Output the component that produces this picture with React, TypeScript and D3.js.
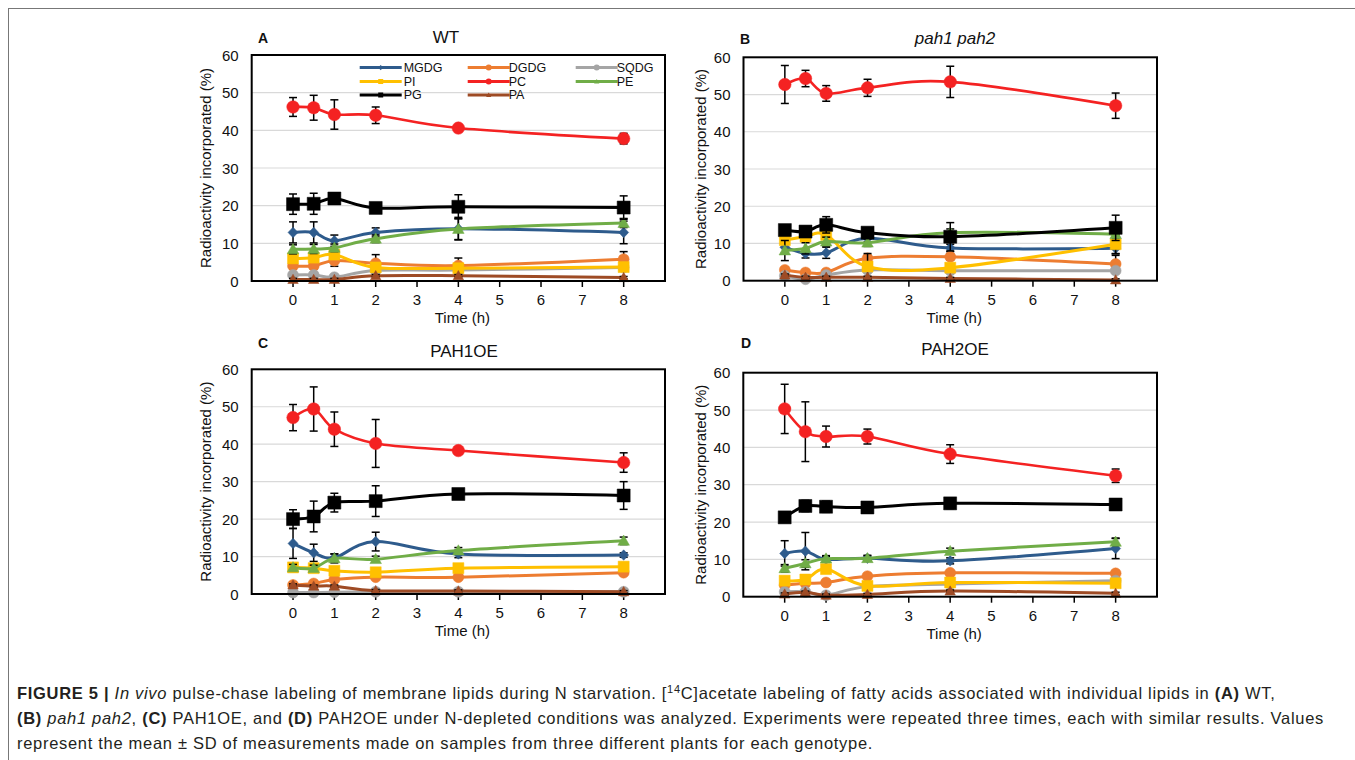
import React from "react";
import * as d3 from "d3";

// ---------- data ----------
const times = [0, 0.5, 1, 2, 4, 8];
const seriesNames = ["MGDG", "DGDG", "SQDG", "PI", "PC", "PE", "PG", "PA"];
const xTicks = [0, 1, 2, 3, 4, 5, 6, 7, 8];
const yTicks = [0, 10, 20, 30, 40, 50, 60];

// WT (A) — series order as seriesNames
const wtMeans = [
  [12.9, 12.9, 10.7, 12.9, 13.9, 12.9],
  [4.0, 4.0, 5.4, 4.7, 4.1, 5.8],
  [1.6, 1.6, 1.0, 2.8, 2.9, 3.6],
  [6.0, 6.2, 7.0, 3.6, 3.4, 3.7],
  [46.2, 46.0, 44.2, 44.0, 40.6, 37.8],
  [8.4, 8.5, 8.8, 11.2, 13.8, 15.4],
  [20.4, 20.5, 21.9, 19.4, 19.7, 19.5],
  [0.4, 0.4, 0.4, 1.4, 1.4, 0.9],
];
const wtErrors = [
  [2.8, 2.8, 1.5, 1.2, 3.0, 3.0],
  [0.8, 0.8, 1.5, 2.3, 2.0, 2.0],
  [0.5, 0.5, 0.4, 0.5, 0.5, 0.5],
  [1.0, 1.0, 1.0, 0.8, 0.8, 0.8],
  [2.5, 3.3, 3.9, 2.2, 0.8, 1.4],
  [1.2, 1.2, 1.0, 1.0, 2.8, 1.2],
  [2.7, 2.8, 0.8, 0.6, 3.2, 3.1],
  [0.3, 0.3, 0.3, 0.3, 0.3, 0.3],
];

// pah1 pah2 (B)
const pahMeans = [
  [9.0, 7.3, 7.5, 11.4, 8.8, 8.7],
  [2.9, 2.2, 2.2, 6.0, 6.4, 4.5],
  [1.3, 0.4, 1.5, 2.9, 2.7, 2.7],
  [10.9, 11.8, 12.3, 3.8, 3.5, 9.8],
  [52.7, 54.3, 50.3, 51.8, 53.4, 47.0],
  [8.1, 8.7, 10.5, 10.2, 12.9, 12.5],
  [13.6, 13.2, 15.0, 12.9, 11.8, 14.2],
  [1.5, 0.9, 0.9, 0.9, 0.6, 0.2],
];
const pahErrors = [
  [1.5, 1.2, 1.5, 1.0, 1.0, 1.5],
  [0.5, 0.5, 0.5, 0.8, 0.8, 2.3],
  [0.5, 0.5, 0.5, 0.5, 0.5, 0.5],
  [1.0, 1.0, 1.0, 3.5, 1.0, 2.5],
  [5.1, 2.2, 2.1, 2.3, 4.2, 3.4],
  [2.7, 1.5, 1.2, 1.0, 1.0, 1.0],
  [1.0, 1.0, 2.2, 0.8, 3.8, 3.4],
  [0.3, 0.3, 0.3, 0.3, 0.3, 0.3],
];

// PAH1OE (C)
const oe1Means = [
  [13.5, 11.0, 9.7, 14.0, 10.7, 10.4],
  [2.4, 2.8, 3.9, 4.5, 4.5, 5.7],
  [0.4, 0.4, 0.5, 0.6, 0.6, 0.6],
  [7.1, 6.9, 6.2, 5.8, 6.9, 7.3],
  [47.1, 49.4, 44.0, 40.2, 38.3, 35.1],
  [7.1, 6.9, 9.5, 9.3, 11.6, 14.2],
  [20.0, 20.7, 24.4, 24.8, 26.7, 26.3],
  [2.4, 2.1, 2.1, 0.9, 0.8, 0.6],
];
const oe1Errors = [
  [4.0, 2.3, 1.0, 2.5, 1.0, 0.6],
  [0.5, 0.5, 0.5, 0.5, 0.5, 0.5],
  [0.2, 0.2, 0.2, 0.2, 0.2, 0.2],
  [0.6, 0.6, 0.6, 0.6, 0.6, 0.6],
  [3.5, 5.9, 4.6, 6.4, 0.5, 2.6],
  [0.8, 0.8, 1.2, 0.8, 0.8, 1.0],
  [2.5, 4.1, 2.5, 4.1, 0.6, 3.7],
  [0.3, 0.3, 0.3, 0.3, 0.3, 0.3],
];

// PAH2OE (D)
const oe2Means = [
  [11.6, 12.2, 10.0, 10.3, 9.6, 12.9],
  [3.1, 3.6, 3.8, 5.5, 6.4, 6.25],
  [1.3, 1.3, 0.4, 2.7, 3.4, 4.3],
  [4.3, 4.6, 7.4, 2.9, 3.8, 3.6],
  [50.3, 44.2, 42.9, 42.9, 38.2, 32.4],
  [7.6, 8.9, 10.2, 10.3, 12.2, 14.7],
  [21.25, 24.3, 24.1, 23.9, 25.0, 24.7],
  [0.7, 1.2, 0.4, 0.6, 1.5, 0.9],
];
const oe2Errors = [
  [3.4, 5.0, 0.8, 0.6, 0.8, 2.7],
  [0.6, 0.6, 0.6, 0.6, 0.6, 0.6],
  [0.4, 0.4, 0.4, 0.4, 0.4, 0.4],
  [0.6, 0.6, 0.6, 0.6, 0.6, 0.6],
  [6.6, 8.0, 2.8, 2.0, 2.5, 1.8],
  [1.0, 1.0, 0.8, 0.8, 0.8, 1.0],
  [0.6, 1.5, 1.5, 1.2, 1.4, 0.6],
  [0.3, 0.3, 0.3, 0.3, 0.3, 0.3],
];

// ---------- styles ----------
const colors = ["#2E5B8C", "#ED7D31", "#A5A5A5", "#FFC000", "#F42222", "#70AD47", "#000000", "#9E4B25"];
const shapes = ["diamond", "circle", "circle", "square", "circle", "triangle", "square", "triangle"];
const markerSizes = [10, 11, 11, 11, 12.5, 11, 13, 10];
const lineWidths = [3, 3, 3, 3, 2.6, 3, 3, 3];

const FONT = "'Liberation Sans', Arial, Helvetica, sans-serif";

function markerPath(shape: string, s: number): string {
  const h = s / 2;
  if (shape === "circle") {
    return `M${-h},0A${h},${h} 0 1,0 ${h},0A${h},${h} 0 1,0 ${-h},0Z`;
  }
  if (shape === "square") return `M${-h},${-h}H${h}V${h}H${-h}Z`;
  if (shape === "diamond") return `M0,${-h * 1.05}L${h},0L0,${h * 1.05}L${-h},0Z`;
  // triangle
  return `M0,${-h * 1.05}L${h * 1.05},${h * 0.8}L${-h * 1.05},${h * 0.8}Z`;
}

type PanelProps = {
  x0: number; x1: number; y0: number; y1: number;
  means: number[][]; errors: number[][];
  title: string; italic?: boolean; titleX: number; titleY: number;
  letter: string; letterX: number; letterY: number;
  yLabelX: number; legend?: boolean;
};

function Panel(p: PanelProps) {
  const x = d3.scaleLinear().domain([-1, 9]).range([p.x0, p.x1]);
  const y = d3.scaleLinear().domain([0, 60]).range([p.y1, p.y0]);
  const line = d3
    .line<[number, number]>()
    .x((d) => x(d[0]))
    .y((d) => y(d[1]))
    .curve(d3.curveCatmullRom.alpha(0));
  const yMid = (p.y0 + p.y1) / 2;
  const xMid = (p.x0 + p.x1) / 2;

  const legendCols = [
    { lx: p.x0 + 108, tx: p.x0 + 152 },
    { lx: p.x0 + 216, tx: p.x0 + 257 },
    { lx: p.x0 + 324, tx: p.x0 + 365 },
  ];
  const legendRows = [p.y0 + 12.5, p.y0 + 26.5, p.y0 + 40];

  return (
    <g>
      {/* gridlines */}
      {yTicks.filter((t) => t > 0 && t < 60).map((t) => (
        <line key={"g" + t} x1={p.x0} x2={p.x1} y1={y(t)} y2={y(t)} stroke="#D9D9D9" strokeWidth={1.2} />
      ))}
      {/* x ticks */}
      {xTicks.map((t) => (
        <g key={"xt" + t}>
          <line x1={x(t)} x2={x(t)} y1={p.y1} y2={p.y1 + 6} stroke="#000" strokeWidth={1.5} />
          <text x={x(t)} y={p.y1 + 24} textAnchor="middle" fontSize={15} fontFamily={FONT} fill="#111">{t}</text>
        </g>
      ))}
      {/* y tick labels */}
      {yTicks.map((t) => (
        <text key={"yt" + t} x={p.x0 - 13} y={y(t) + 5.5} textAnchor="end" fontSize={15} fontFamily={FONT} fill="#111">{t}</text>
      ))}
      {/* series */}
      {p.means.map((vals, si) => {
        const pts: [number, number][] = vals.map((v, i) => [times[i], v]);
        return (
          <g key={"s" + si}>
            <path d={line(pts) || ""} fill="none" stroke={colors[si]} strokeWidth={lineWidths[si]} />
            {vals.map((v, i) => {
              const e = p.errors[si][i];
              const top = y(Math.min(60, v + e));
              const bot = y(Math.max(0, v - e));
              const cx = x(times[i]);
              return (
                <g key={"e" + i}>
                  <line x1={cx} x2={cx} y1={top} y2={bot} stroke="#000" strokeWidth={1.5} />
                  <line x1={cx - 4} x2={cx + 4} y1={top} y2={top} stroke="#000" strokeWidth={1.5} />
                  {v - e > 0 && <line x1={cx - 4} x2={cx + 4} y1={bot} y2={bot} stroke="#000" strokeWidth={1.5} />}
                </g>
              );
            })}
            {vals.map((v, i) => (
              <path key={"m" + i} d={markerPath(shapes[si], markerSizes[si])}
                transform={`translate(${x(times[i])},${y(v)})`} fill={colors[si]} stroke={colors[si]} strokeWidth={0.5} />
            ))}
          </g>
        );
      })}
      {/* frame */}
      <rect x={p.x0} y={p.y0} width={p.x1 - p.x0} height={p.y1 - p.y0} fill="none" stroke="#000" strokeWidth={2} />
      {/* legend */}
      {p.legend && seriesNames.map((name, si) => {
        const col = legendCols[si % 3];
        const ry = legendRows[Math.floor(si / 3)];
        return (
          <g key={"l" + si}>
            <line x1={col.lx} x2={col.lx + 42} y1={ry} y2={ry} stroke={colors[si]} strokeWidth={3} />
            <path d={markerPath(shapes[si], shapes[si] === "circle" ? 6 : 5)} transform={`translate(${col.lx + 21},${ry})`} fill={colors[si]} />
            <text x={col.tx} y={ry + 4.3} fontSize={12.5} fontFamily={FONT} fill="#111">{name}</text>
          </g>
        );
      })}
      {/* labels */}
      <text x={p.letterX} y={p.letterY} fontSize={14} fontWeight="bold" fontFamily={FONT} fill="#111">{p.letter}</text>
      <text x={p.titleX} y={p.titleY} textAnchor="middle" fontSize={17} fontStyle={p.italic ? "italic" : "normal"} fontFamily={FONT} fill="#111">{p.title}</text>
      <text transform={`translate(${p.yLabelX},${yMid}) rotate(-90)`} textAnchor="middle" dominantBaseline="central" fontSize={15} fontFamily={FONT} fill="#111">
        Radioactivity incorporated (%)
      </text>
      <text x={xMid + 4} y={p.y1 + 42} textAnchor="middle" fontSize={15} fontFamily={FONT} fill="#111">Time (h)</text>
    </g>
  );
}

export default function App() {
  const capFont = 16.5;
  return (
    <svg width={1355} height={760} style={{ position: "absolute", left: 0, top: 0, background: "#fff" }}>
      <rect x={0} y={0} width={1355} height={760} fill="#fff" />
      <rect x={8.5} y={8.5} width={1380} height={780} fill="none" stroke="#777" strokeWidth={1} />
      <Panel x0={251.7} x1={665} y0={55} y1={281} means={wtMeans} errors={wtErrors}
        title="WT" titleX={446} titleY={43} letter="A" letterX={258} letterY={43} yLabelX={205} legend />
      <Panel x0={743.5} x1={1157} y0={57.3} y1={280.7} means={pahMeans} errors={pahErrors}
        title="pah1 pah2" italic titleX={955} titleY={44} letter="B" letterX={740} letterY={44} yLabelX={700} />
      <Panel x0={251.7} x1={665} y0={369.3} y1={594} means={oe1Means} errors={oe1Errors}
        title="PAH1OE" titleX={464} titleY={357} letter="C" letterX={258} letterY={348} yLabelX={205} />
      <Panel x0={743.3} x1={1157} y0={372.7} y1={596.7} means={oe2Means} errors={oe2Errors}
        title="PAH2OE" titleX={955} titleY={354.5} letter="D" letterX={741} letterY={348} yLabelX={700} />
      <g fontFamily={FONT} fontSize={capFont} fill="#231F20" letterSpacing={0.7}>
        <text x={17} y={699}>
          <tspan fontWeight="bold">FIGURE 5 | </tspan>
          <tspan fontStyle="italic">In vivo</tspan>
          <tspan> pulse-chase labeling of membrane lipids during N starvation. [</tspan>
          <tspan fontSize={11} dy={-6.5}>14</tspan>
          <tspan dy={6.5}>C]acetate labeling of fatty acids associated with individual lipids in </tspan>
          <tspan fontWeight="bold">(A)</tspan>
          <tspan> WT,</tspan>
        </text>
        <text x={17} y={724}>
          <tspan fontWeight="bold">(B)</tspan>
          <tspan> </tspan>
          <tspan fontStyle="italic">pah1 pah2</tspan>
          <tspan>, </tspan>
          <tspan fontWeight="bold">(C)</tspan>
          <tspan> PAH1OE, and </tspan>
          <tspan fontWeight="bold">(D)</tspan>
          <tspan> PAH2OE under N-depleted conditions was analyzed. Experiments were repeated three times, each with similar results. Values</tspan>
        </text>
        <text x={17} y={749}>represent the mean ± SD of measurements made on samples from three different plants for each genotype.</text>
      </g>
    </svg>
  );
}
